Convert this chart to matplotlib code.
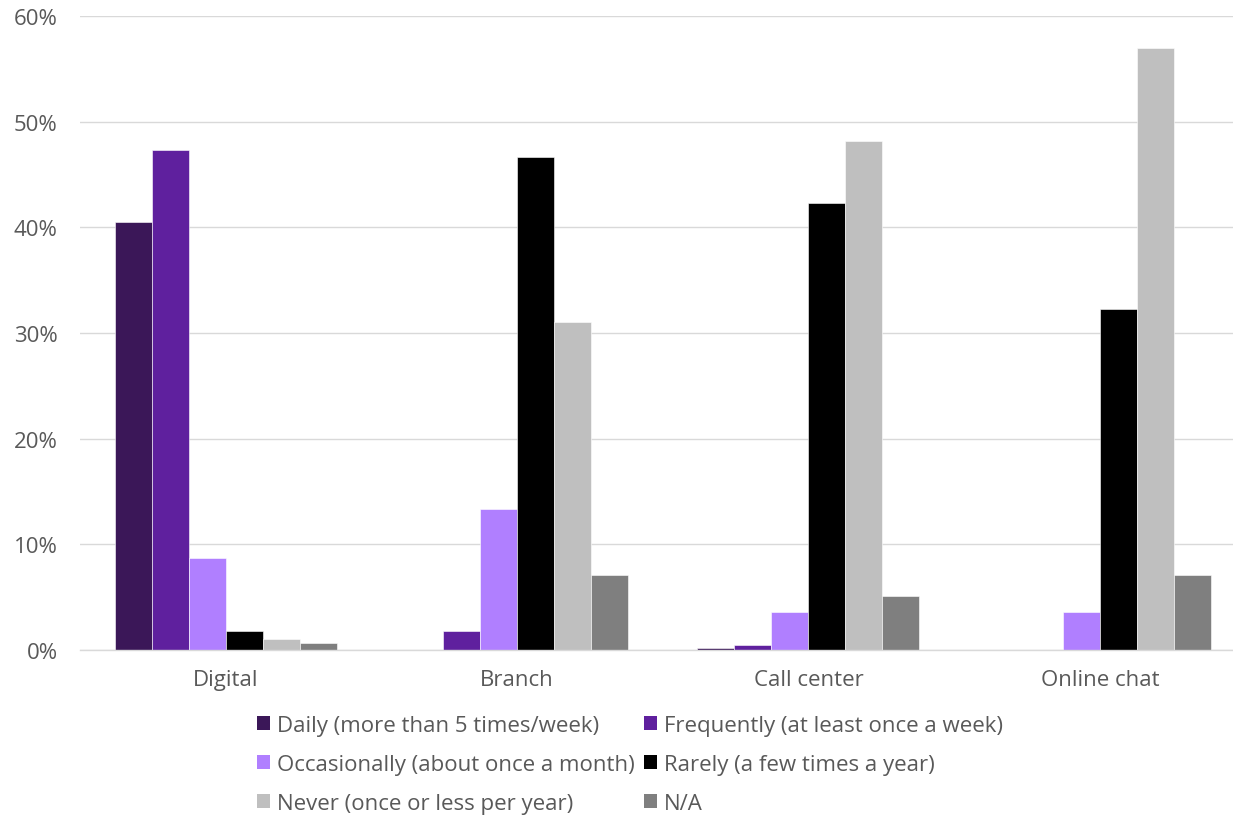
import matplotlib
matplotlib.use("Agg")
import matplotlib.pyplot as plt
import numpy as np
from matplotlib.patches import Patch

categories = ["Digital", "Branch", "Call center", "Online chat"]
series_names = [
    "Daily (more than 5 times/week)",
    "Frequently (at least once a week)",
    "Occasionally (about once a month)",
    "Rarely (a few times a year)",
    "Never (once or less per year)",
    "N/A",
]
daily = [40.5, 0.0, 0.2, 0.0]
frequently = [47.3, 1.8, 0.5, 0.0]
occasionally = [8.7, 13.3, 3.6, 3.6]
rarely = [1.8, 46.7, 42.3, 32.3]
never = [1.0, 31.0, 48.2, 57.0]
na = [0.7, 7.1, 5.1, 7.1]

colors = ["#3B1758", "#5F209E", "#B07FFF", "#000000", "#BFBFBF", "#7F7F7F"]

plt.rcParams['font.family'] = ['Open Sans', 'DejaVu Sans']
text_col = "#595959"
fs = 16

fig = plt.figure(figsize=(12.33, 8.2), dpi=100)
ax = fig.add_axes([80 / 1233, 169 / 820, 1153 / 1233, 634 / 820])

x = np.arange(len(categories))
w = 0.127
all_series = [daily, frequently, occasionally, rarely, never, na]
for i, vals in enumerate(all_series):
    offs = (i - 2.5) * w
    ax.bar(x + offs, np.array(vals) / 100, w, color=colors[i],
           edgecolor="white", linewidth=0.4, zorder=3)

ax.set_ylim(0, 0.6)
ax.set_xlim(-0.5, 3.457)
ax.set_yticks(np.arange(0, 0.61, 0.1))
ax.set_yticklabels([f"{int(round(v * 100))}%" for v in np.arange(0, 0.61, 0.1)])
ax.set_xticks(x)
ax.set_xticklabels(categories)
ax.tick_params(axis="both", length=0, labelsize=fs, colors=text_col)
ax.tick_params(axis="y", pad=16)
ax.tick_params(axis="x", pad=14)
ax.yaxis.grid(True, color="#D9D9D9", linewidth=1, zorder=0)
for s in ["top", "right", "left"]:
    ax.spines[s].set_visible(False)
ax.spines["bottom"].set_color("#D9D9D9")
ax.spines["bottom"].set_linewidth(1)
ax.spines["bottom"].set_zorder(4)

# legend fills by column, so reorder to get row-wise order like the original
order = [0, 2, 4, 1, 3, 5]
handles = [Patch(facecolor=colors[k], edgecolor="none") for k in order]
labels = [series_names[k] for k in order]
leg = fig.legend(handles, labels, loc="upper left",
                 bbox_to_anchor=(257 / 1233, 1 - 716 / 820), ncol=2,
                 frameon=False, fontsize=fs, handlelength=0.6, handleheight=0.6,
                 handletextpad=0.3, columnspacing=0.4, labelspacing=0.8,
                 borderaxespad=0, borderpad=0)
for t in leg.get_texts():
    t.set_color(text_col)

fig.savefig("out.png", dpi=100)
